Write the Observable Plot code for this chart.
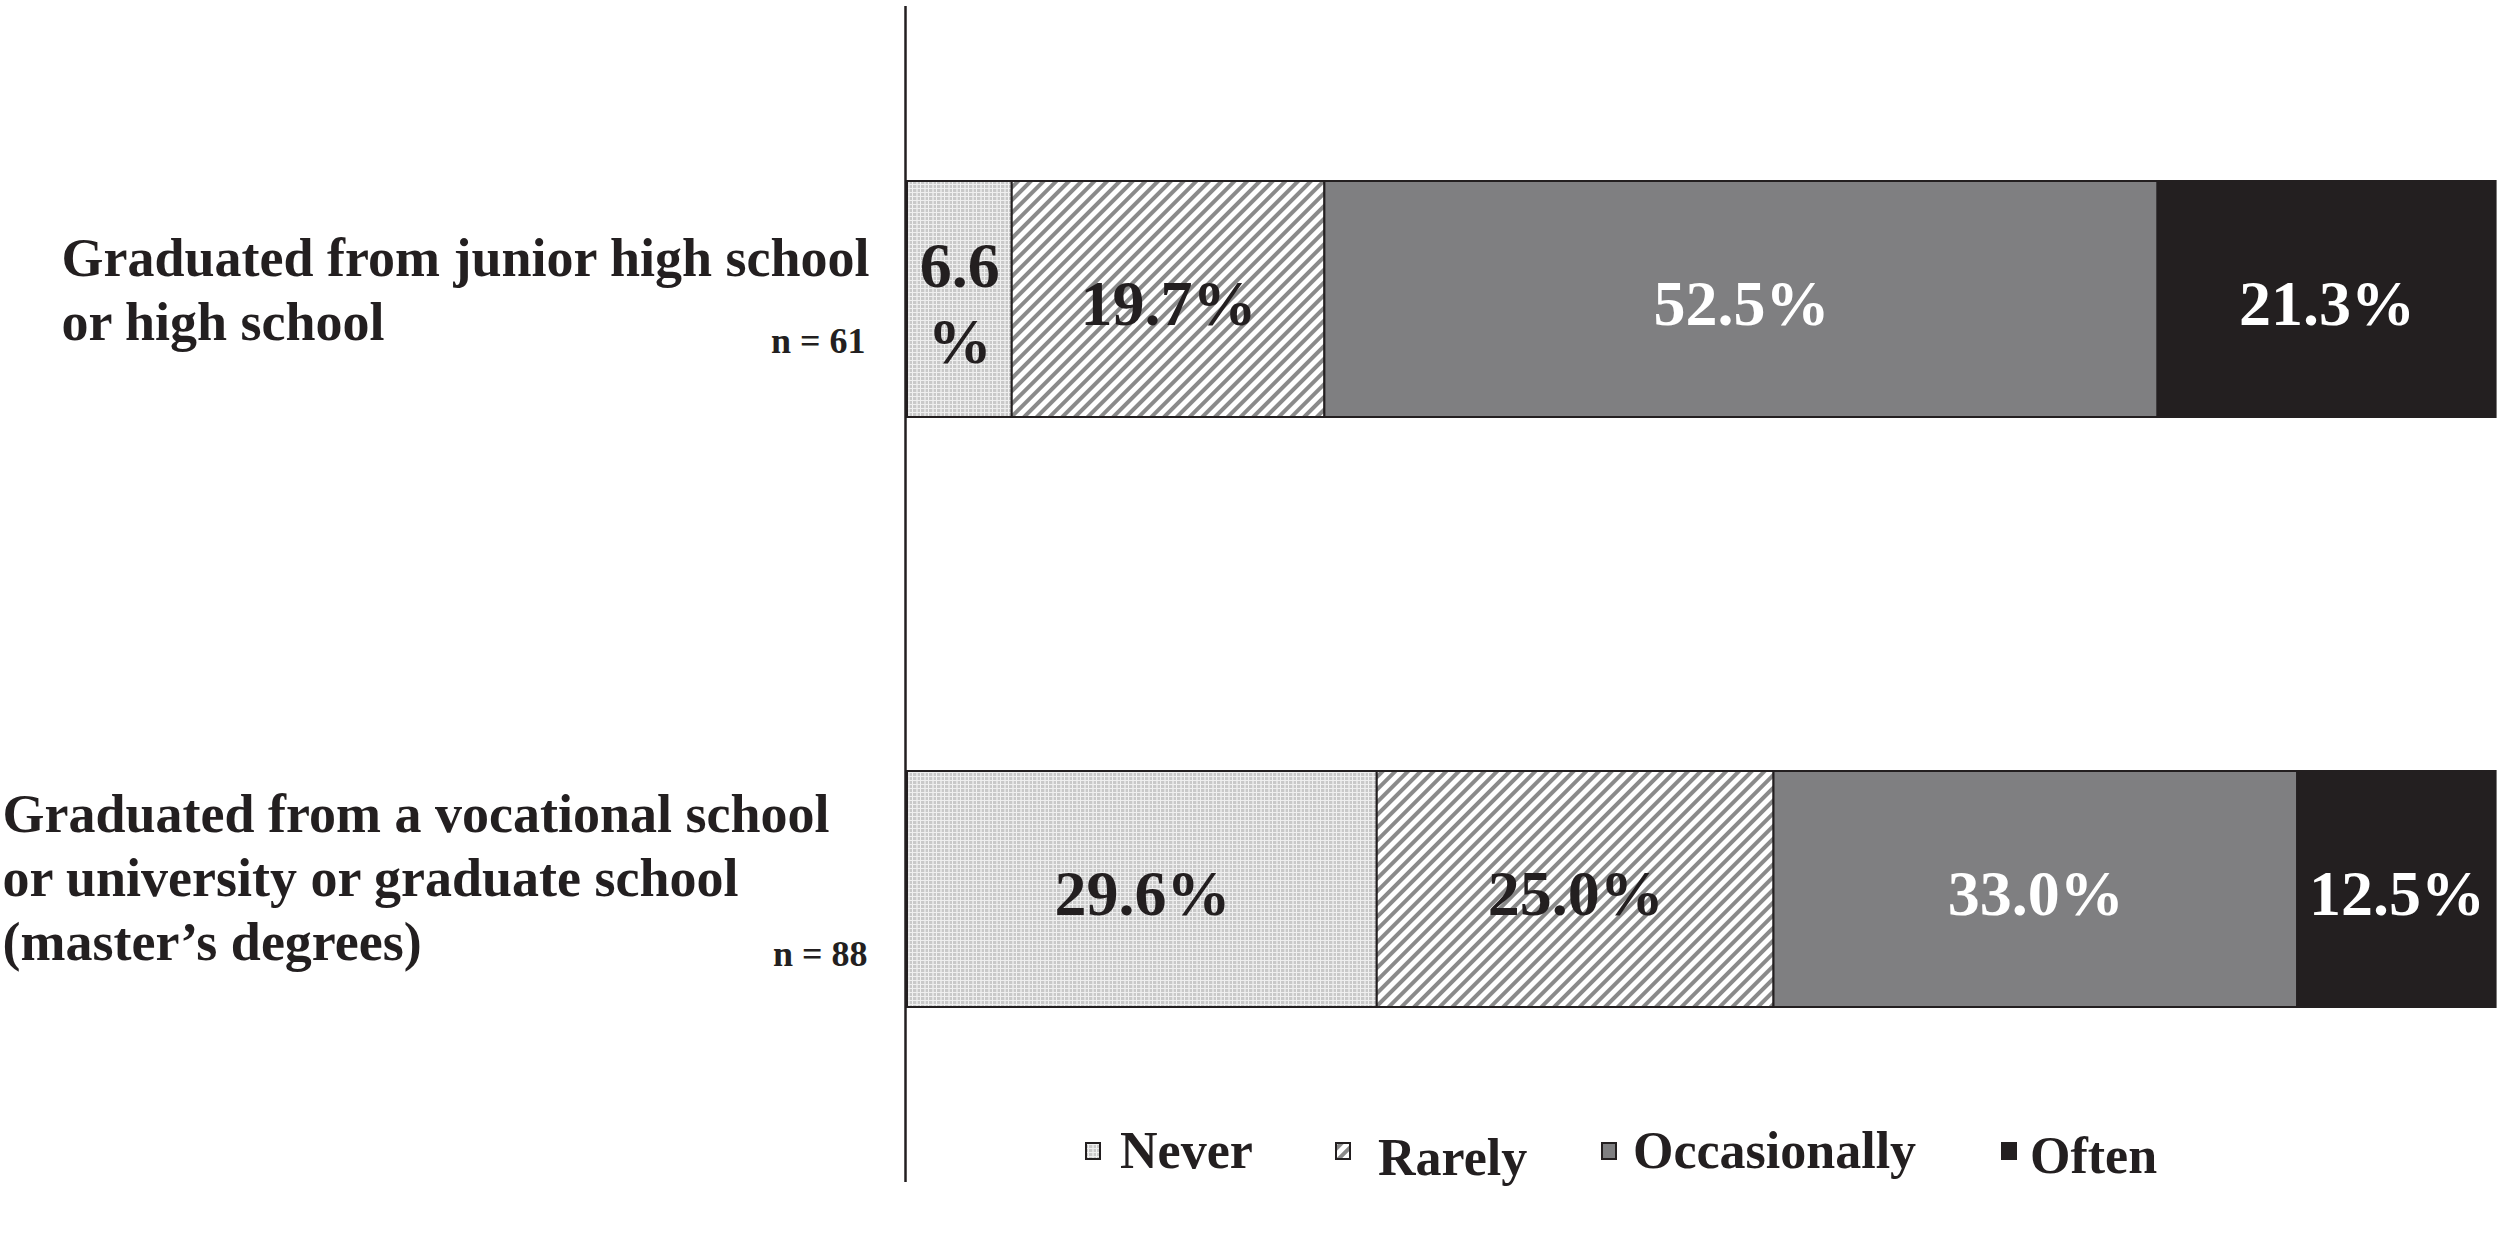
<!DOCTYPE html>
<html>
<head>
<meta charset="utf-8">
<script src="https://cdn.jsdelivr.net/npm/d3@7"></script>
<script src="https://cdn.jsdelivr.net/npm/@observablehq/plot@0.6"></script>
<style>
  html, body { margin: 0; padding: 0; background: #fff; }
  #wrap { position: relative; width: 2500px; height: 1254px; overflow: hidden; }
  #legend { position: absolute; left: 0; top: 0; }
</style>
</head>
<body>
<div id="wrap"></div>
<script>
// ---- data ----
const categories = [
  "Graduated from junior high school\nor high school",
  "Graduated from a vocational school\nor university or graduate school\n(master’s degrees)"
];
const sampleSizes = ["n = 61", "n = 88"];
const responses = ["Never", "Rarely", "Occasionally", "Often"];
const juniorHighValues = [6.6, 19.7, 52.5, 21.3];
const vocationalValues = [29.6, 25.0, 33.0, 12.5];

const seriesByCategory = [juniorHighValues, vocationalValues];
const table = [];
categories.forEach((c, i) => {
  responses.forEach((r, j) => table.push({group: c, response: r, value: seriesByCategory[i][j]}));
});
const groups = categories.map((c, i) => ({category: c, n: sampleSizes[i]}));

const fills = ["url(#pat-never)", "url(#pat-rarely)", "#7f7f81", "#231f20"];
const darkText = new Set(["Never", "Rarely"]);
const fmt = d => d.value < 10 ? `${d.value.toFixed(1)}\n%` : `${d.value.toFixed(1)}%`;
const font = "'Liberation Serif', 'Times New Roman', Times, serif";

const chart = Plot.plot({
  width: 2500,
  height: 1254,
  marginLeft: 907,
  marginRight: 6,
  marginTop: 6,
  marginBottom: 72,
  x: {domain: [0, 100], axis: null},
  y: {type: "band", domain: categories, paddingInner: 0.6, paddingOuter: 0.295, axis: null},
  color: {type: "ordinal", domain: responses, range: fills},
  style: {fontFamily: font, fontWeight: "bold", background: "white", color: "#231f20"},
  marks: [
    Plot.barX(table, Plot.stackX({x: "value", y: "group", fill: "response", stroke: "#231f20", strokeWidth: 2})),
    Plot.text(table, Plot.stackX({x: "value", y: "group", z: "response",
      text: d => darkText.has(d.response) ? fmt(d) : "",
      fill: "#231f20", fontSize: 64, fontWeight: "bold", lineHeight: 1.2, dy: 1})),
    Plot.text(table, Plot.stackX({x: "value", y: "group", z: "response",
      text: d => darkText.has(d.response) ? "" : fmt(d),
      fill: "white", fontSize: 64, fontWeight: "bold", lineHeight: 1.2, dy: 1})),
    Plot.ruleX([0], {dx: -2, stroke: "#231f20", strokeWidth: 2.5}),
    Plot.text(groups.slice(0, 1), {y: "category", text: "category", frameAnchor: "left", textAnchor: "start",
      dx: -846, dy: -12, fontSize: 54, lineHeight: 1.19, fill: "#231f20"}),
    Plot.text(groups.slice(1, 2), {y: "category", text: "category", frameAnchor: "left", textAnchor: "start",
      dx: -905, dy: -14, fontSize: 54, lineHeight: 1.19, fill: "#231f20"}),
    Plot.text(groups.slice(0, 1), {y: "category", text: "n", frameAnchor: "left", textAnchor: "end",
      dx: -42, dy: 42, fontSize: 36, fill: "#231f20"}),
    Plot.text(groups.slice(1, 2), {y: "category", text: "n", frameAnchor: "left", textAnchor: "end",
      dx: -40, dy: 65, fontSize: 36, fill: "#231f20"})
  ]
});

// patterns
const defs = d3.select(chart).insert("defs", ":first-child");
const pn = defs.append("pattern").attr("id", "pat-never").attr("patternUnits", "userSpaceOnUse")
  .attr("width", 8).attr("height", 4);
pn.append("rect").attr("width", 8).attr("height", 4).attr("fill", "#c9c9c9");
pn.append("rect").attr("x", 0).attr("width", 1).attr("height", 4).attr("fill", "#f2f2f2");
pn.append("rect").attr("x", 4).attr("width", 2).attr("height", 4).attr("fill", "#e2e2e2");
pn.append("rect").attr("y", 0).attr("width", 8).attr("height", 1).attr("fill", "#efefef");
const pr = defs.append("pattern").attr("id", "pat-rarely").attr("patternUnits", "userSpaceOnUse")
  .attr("width", 9).attr("height", 9).attr("patternTransform", "rotate(45)");
pr.append("rect").attr("width", 9).attr("height", 9).attr("fill", "#ffffff");
pr.append("rect").attr("width", 4).attr("height", 9).attr("fill", "#8a8a8a");

const wrap = document.getElementById("wrap");
wrap.appendChild(chart);

// legend (HTML overlay)
const legendPos = [
  {sx: 1086, tx: 1120, base: 1168},
  {sx: 1336, tx: 1378, base: 1175},
  {sx: 1602, tx: 1633, base: 1168},
  {sx: 2002, tx: 2030, base: 1173}
];
const lg = d3.select(wrap).append("svg").attr("id", "legend").attr("width", 2500).attr("height", 1254)
  .style("pointer-events", "none");
responses.forEach((r, i) => {
  const p = legendPos[i];
  lg.append("rect").attr("x", p.sx).attr("y", 1143).attr("width", 14).attr("height", 16)
    .attr("fill", fills[i]).attr("stroke", "#231f20").attr("stroke-width", 2);
  lg.append("text").attr("x", p.tx).attr("y", p.base).text(r)
    .attr("font-family", font).attr("font-weight", "bold").attr("font-size", 52).attr("fill", "#231f20");
});
</script>
</body>
</html>
